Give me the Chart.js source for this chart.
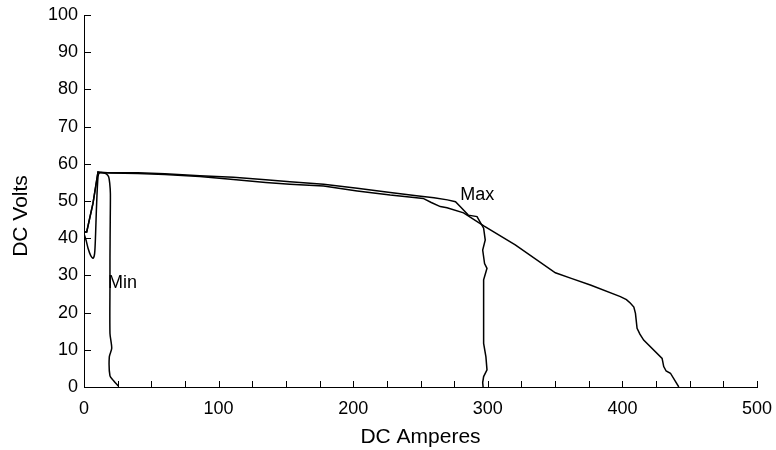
<!DOCTYPE html>
<html><head><meta charset="utf-8">
<script src="https://cdn.jsdelivr.net/npm/chart.js@4/dist/chart.umd.min.js"></script>
<style>html,body{margin:0;padding:0;background:#fff}</style>
</head><body>
<canvas id="c" width="776" height="450"></canvas>
<script>
// ---- data ----
const minAmps  = [0, 1.5, 3, 5, 6.7, 7.9, 8.6, 9.2, 10.4, 11.6, 14, 16.6, 18.3, 19.1, 19.6, 19.5, 19.3, 19.3, 19.3, 20.6, 18.8, 19.3, 22, 25.5];
const minVolts = [41.2, 39.5, 37.3, 35.3, 34.6, 35.9, 41, 47.6, 56.5, 57.6, 57.6, 57.3, 56.5, 54.8, 52, 45, 35, 27.9, 14.4, 10.4, 8.1, 3, 1.7, 0.3];

const midAmps  = [0, 2, 6.7, 10.4, 12, 20, 40, 60, 86, 111, 135, 153, 178, 203, 227.5, 247, 260, 270, 276, 280, 285.5, 292, 296.9, 298.1, 296.2, 297.6, 299.4, 296.9, 296.9, 298.6, 299.4, 296.9, 296.2, 296.5];
const midVolts = [41.7, 41.7, 49.4, 57.8, 57.6, 57.6, 57.6, 57.3, 56.8, 56.4, 55.7, 55.2, 54.5, 53.4, 52.3, 51.4, 50.9, 50.3, 49.8, 48.3, 46.2, 45.8, 42.7, 39.5, 36.8, 33.2, 31.9, 28.8, 11.7, 8.1, 4.6, 2.8, 1.2, 0];

const maxAmps  = [0, 2, 6.7, 10.4, 20, 40, 60, 86, 111, 135, 153, 178, 203, 227.5, 247, 252, 258, 264.7, 269.7, 282, 297, 320.4, 350.2, 362, 376.2, 398.5, 403, 406, 408.5, 409.7, 410.9, 413, 415.8, 429.5, 430.7, 432.5, 435.7, 441.9];
const maxVolts = [41.7, 41.7, 49.4, 57.8, 57.5, 57.4, 57.1, 56.6, 55.8, 55.0, 54.5, 54.0, 52.7, 51.6, 50.9, 50.7, 49.6, 48.5, 48.2, 46.8, 43.3, 38.2, 30.7, 29.2, 27.4, 24.3, 23.5, 22.5, 21.5, 19.8, 15.8, 14.2, 12.6, 7.7, 5.5, 4.3, 3.7, 0];

const xTicks = [0, 100, 200, 300, 400, 500];
const yTicks = [0, 10, 20, 30, 40, 50, 60, 70, 80, 90, 100];
const xMinorStep = 25;

const xTitle = 'DC Amperes';
const yTitle = 'DC Volts';
const curveLabels = ['Min', 'Max'];
const labelAmps   = [17.8, 279.6];
const labelVolts  = [28, 51.6];

// ---- helpers ----
function pts(xs, ys){ return xs.map((x,i)=>({x:x, y:ys[i]})); }
const FONT = '"Liberation Sans", Arial, Helvetica, sans-serif';

const innerTicks = {
  id: 'innerTicks',
  afterDraw(chart){
    const {ctx, chartArea:a} = chart;
    const x = chart.scales.x, y = chart.scales.y;
    ctx.save();
    ctx.strokeStyle = '#000';
    ctx.lineWidth = 1;
    ctx.beginPath();
    const xmax = xTicks[xTicks.length-1];
    for (let v = xTicks[0]; v <= xmax; v += xMinorStep){
      const px = Math.round(x.getPixelForValue(v)) + 0.5;
      ctx.moveTo(px, a.bottom); ctx.lineTo(px, a.bottom - 6);
    }
    yTicks.forEach(v=>{
      const py = Math.round(y.getPixelForValue(v)) + 0.5;
      ctx.moveTo(a.left, py); ctx.lineTo(a.left + 7, py);
    });
    ctx.stroke();
    ctx.fillStyle = '#000';
    ctx.font = '18px ' + FONT;
    ctx.textAlign = 'left';
    ctx.textBaseline = 'middle';
    curveLabels.forEach((t,i)=>{
      ctx.fillText(t, x.getPixelForValue(labelAmps[i]), y.getPixelForValue(labelVolts[i]));
    });
    // y axis title
    ctx.font = '21px ' + FONT;
    ctx.textAlign = 'center';
    ctx.translate(21, 216);
    ctx.rotate(-Math.PI/2);
    ctx.fillText(yTitle, 0, 0);
    ctx.restore();
  }
};

const lineStyle = {borderColor:'#000', borderWidth:1.5, pointRadius:0, showLine:true, fill:false, tension:0};

new Chart(document.getElementById('c'), {
  type: 'scatter',
  data: {
    datasets: [
      Object.assign({label:'Min', data: pts(minAmps, minVolts)}, lineStyle, {tension:0.25}),
      Object.assign({label:'Mid', data: pts(midAmps, midVolts)}, lineStyle),
      Object.assign({label:'Max', data: pts(maxAmps, maxVolts)}, lineStyle)
    ]
  },
  options: {
    responsive: false,
    animation: false,
    layout: {padding: {top: 15, right: 19, left: 0, bottom: 0}},
    plugins: {legend: {display: false}, tooltip: {enabled: false}},
    scales: {
      x: {
        type: 'linear', min: 0, max: 500,
        afterBuildTicks(s){ s.ticks = xTicks.map(v=>({value:v})); },
        ticks: {color:'#000', font:{family:FONT, size:18}, padding:11, maxRotation:0},
        grid: {display:false, drawTicks:false},
        border: {display:true, color:'#000', width:1},
        title: {display:true, text:xTitle, color:'#000', font:{family:FONT, size:21}, padding:{top:0, bottom:0}},
        afterFit(s){ s.height = 63; s.paddingLeft = 0; s.paddingRight = 0; }
      },
      y: {
        type: 'linear', min: 0, max: 100,
        afterBuildTicks(s){ s.ticks = yTicks.map(v=>({value:v})); },
        ticks: {color:'#000', font:{family:FONT, size:18}, padding:6},
        grid: {display:false, drawTicks:false},
        border: {display:true, color:'#000', width:1},
        title: {display:false},
        afterFit(s){ s.width = 84; s.paddingTop = 0; s.paddingBottom = 0; }
      }
    }
  },
  plugins: [innerTicks]
});
</script>
</body></html>
